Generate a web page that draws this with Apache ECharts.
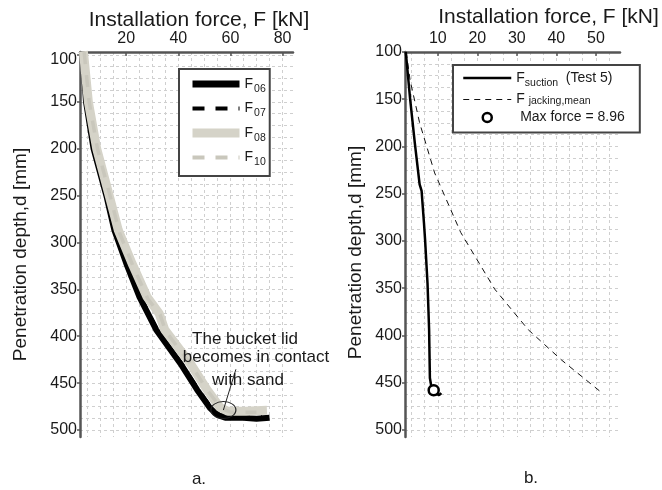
<!DOCTYPE html>
<html>
<head>
<meta charset="utf-8">
<script src="https://cdn.jsdelivr.net/npm/echarts@6/dist/echarts.min.js"></script>
<style>
html, body { margin: 0; padding: 0; background: #fff; }
#chart { width: 662px; height: 490px; }
</style>
</head>
<body>
<div id="chart"></div>
<script>
var FONT = "'Liberation Sans', Arial, sans-serif";

// (a) installation force [kN] vs penetration depth [mm], four tests
var f06Force = [3.4, 4.6, 7.5, 12.4, 15.5, 20.0, 25.1, 31.5, 40.8, 47.2, 52.3, 55.0, 58.0, 65.0, 70.0, 75.0];
var f06Depth = [97, 150, 200, 250, 287, 322, 358, 393, 429, 457, 477, 484, 487, 487, 488, 487];
var f07Force = [3.8, 5.0, 8.0, 12.8, 16.2, 20.8, 25.8, 32.2, 41.4, 47.8, 52.8, 56.0, 62.0, 72.0];
var f07Depth = [97, 150, 200, 250, 290, 325, 360, 395, 430, 458, 477, 484, 486, 485];
var f08Force = [3.6, 5.5, 8.7, 13.5, 17.0, 22.2, 28.0, 32.7, 34.8, 44.6, 51.0, 56.0, 59.0, 66.0, 74.0];
var f08Depth = [96, 150, 200, 250, 287, 322, 358, 376, 393, 429, 457, 476, 480, 480, 479];
var f10Force = [3.9, 5.8, 9.0, 13.8, 17.5, 22.6, 28.3, 33.0, 35.2, 44.8, 51.2, 56.5, 60.0, 70.0];
var f10Depth = [97, 150, 200, 250, 290, 325, 360, 377, 395, 430, 458, 477, 481, 481];

// (b) suction installation vs mean jacking force
var suctionForce = [1.9, 3.0, 4.2, 5.4, 5.9, 6.5, 6.8, 7.4, 7.8, 8.0, 8.4, 8.96, 9.6, 10.4, 10.9];
var suctionDepth = [100, 150, 197, 240, 247, 281, 300, 345, 394, 445, 455, 458, 462, 463, 461];
var jackingForce = [2.0, 3.0, 5.4, 9.2, 15.8, 24.4, 32.9, 41.3, 51.3];
var jackingDepth = [100, 130, 175, 228, 291, 351, 394, 426, 460];
var maxForce = 8.96;
var maxForceDepth = 458;

// where the lid touches the sand (annotation anchor + leader end)
var lidContact = [57.3, 478.7];
var lidLeaderEnd = [62.1, 435.3];

// tick labels
var leftForceTicks = [20, 40, 60, 80];
var rightForceTicks = [10, 20, 30, 40, 50];
var depthTicks = [100, 150, 200, 250, 300, 350, 400, 450, 500];

function pairs(xs, ys) {
    return xs.map(function (x, i) { return [x, ys[i]]; });
}
function steps(from, to, step) {
    var out = [];
    for (var v = from; v <= to + 1e-6; v += step) out.push(+v.toFixed(4));
    return out;
}

var axisColor = '#555';
var textColor = '#1a1a1a';
var noSymbol = { opacity: 0 };

function forceAxis(grid, min, max, ticks, nameGap, shift) {
    return {
        type: 'value', gridIndex: grid, position: 'top', min: min, max: max,
        name: 'Installation force, F [kN]', nameLocation: 'middle', nameGap: nameGap, nameMoveOverlap: false,
        nameTextStyle: { fontFamily: FONT, fontSize: 21, color: textColor, padding: [0, 0, 0, shift] },
        axisLine: { show: true, onZero: false, lineStyle: { color: axisColor, width: 2.5 } },
        axisTick: { show: true, inside: true, length: 4, customValues: ticks, lineStyle: { color: axisColor, width: 1.5 } },
        axisLabel: { customValues: ticks, margin: 5, fontFamily: FONT, fontSize: 16, color: textColor },
        splitLine: { show: false }
    };
}
function depthAxis(grid, min, max, nameGap, shift, firstPad) {
    return {
        type: 'value', gridIndex: grid, position: 'left', inverse: true, min: min, max: max,
        name: 'Penetration depth,d [mm]', nameLocation: 'middle', nameGap: nameGap, nameMoveOverlap: false,
        nameTextStyle: { fontFamily: FONT, fontSize: 19, color: textColor, padding: [0, shift, 0, 0] },
        axisLine: { show: true, onZero: false, lineStyle: { color: axisColor, width: 2.5 } },
        axisTick: { show: true, length: 3, customValues: depthTicks, lineStyle: { color: axisColor, width: 1.5 } },
        axisLabel: {
            customValues: depthTicks, margin: 3, fontFamily: FONT, fontSize: 16, color: textColor,
            formatter: function (v) { return v === 100 ? '{first|100}' : String(v); },
            rich: { first: { fontFamily: FONT, fontSize: 16, color: textColor, padding: [firstPad, 0, 0, 0] } }
        },
        splitLine: { show: false }
    };
}
function gridLineAxis(grid, min, max, values, inverse) {
    return {
        type: 'value', gridIndex: grid, min: min, max: max, inverse: inverse,
        axisLine: { show: false }, axisLabel: { show: false },
        axisTick: { show: false, customValues: values },
        splitLine: { show: true, lineStyle: { color: '#cfcfcf', width: 1, type: [3, 3] } }
    };
}
function label(text, x, y) {
    return {
        type: 'text', x: x, y: y, z: 100,
        style: { text: text, font: '17px ' + FONT, fill: textColor, align: 'center', verticalAlign: 'middle' }
    };
}

var chart = echarts.init(document.getElementById('chart'));

var option = {
    animation: false,
    backgroundColor: '#fff',
    grid: [
        { left: 80, top: 52, width: 213, height: 385, outerBoundsMode: 'none' },
        { left: 405, top: 52, width: 215, height: 385, outerBoundsMode: 'none' }
    ],
    xAxis: [
        forceAxis(0, 2.3, 84, leftForceTicks, 21, 25),
        gridLineAxis(0, 2.3, 84, steps(5, 80, 5), false),
        forceAxis(1, 1.7, 56.1, rightForceTicks, 24, 72),
        gridLineAxis(1, 1.7, 56.1, steps(10 / 3, 55, 10 / 3), false)
    ],
    yAxis: [
        depthAxis(0, 96.8, 507.5, 50, 20, 10),
        gridLineAxis(0, 96.8, 507.5, steps(100, 500, 12.5), true),
        depthAxis(1, 100, 507.5, 40, 16, 0),
        gridLineAxis(1, 100, 507.5, steps(100, 500, 12.5), true)
    ],
    legend: [
        {
            orient: 'vertical', left: 179, top: 69, selectedMode: false,
            padding: [8, 4, 8, 9], itemGap: 7, itemWidth: 47, itemHeight: 10,
            borderColor: '#444', borderWidth: 2, backgroundColor: '#fff',
            data: [
                { name: 'F06', lineStyle: { width: 7 }, itemStyle: noSymbol },
                { name: 'F07', lineStyle: { width: 4 }, itemStyle: noSymbol },
                { name: 'F08', lineStyle: { width: 9 }, itemStyle: noSymbol },
                { name: 'F10', lineStyle: { width: 4 }, itemStyle: noSymbol }
            ],
            formatter: function (n) { return 'F{s|' + n.slice(1) + '}'; },
            textStyle: {
                fontFamily: FONT, fontSize: 14, color: textColor,
                rich: { s: { fontFamily: FONT, fontSize: 10.5, color: textColor, padding: [10, 0, 0, 1] } }
            }
        },
        {
            orient: 'vertical', left: 453, top: 65, selectedMode: false,
            padding: [6, 15, 8, 9], itemGap: 4, itemWidth: 48, itemHeight: 9,
            borderColor: '#444', borderWidth: 2, backgroundColor: '#fff',
            data: [
                { name: 'suction', lineStyle: { width: 2.5 }, itemStyle: noSymbol },
                { name: 'jacking', lineStyle: { width: 1 }, itemStyle: noSymbol },
                { name: 'max', itemStyle: { color: '#fff', borderColor: '#000', borderWidth: 2.5, opacity: 1 } }
            ],
            formatter: function (n) {
                if (n === 'suction') return 'F{s|suction}  (Test 5)';
                if (n === 'jacking') return 'F {s2|jacking,mean}';
                return ' Max force = ' + maxForce;
            },
            textStyle: {
                fontFamily: FONT, fontSize: 14, color: textColor,
                rich: {
                    s: { fontFamily: FONT, fontSize: 10.5, color: textColor, padding: [10, 0, 0, 0] },
                    s2: { fontFamily: FONT, fontSize: 10.5, color: textColor, padding: [3, 0, 0, 0] }
                }
            }
        }
    ],
    series: [
        {
            name: 'F06', type: 'line', xAxisIndex: 0, yAxisIndex: 0, symbol: 'none',
            data: pairs(f06Force, f06Depth), lineStyle: { color: '#000', width: 6 }, itemStyle: { color: '#000' }
        },
        {
            name: 'F07', type: 'line', xAxisIndex: 0, yAxisIndex: 0, symbol: 'none',
            data: pairs(f07Force, f07Depth), lineStyle: { color: '#000', width: 4, type: [12, 11] }, itemStyle: { color: '#000' }
        },
        {
            name: 'F08', type: 'line', xAxisIndex: 0, yAxisIndex: 0, symbol: 'none',
            data: pairs(f08Force, f08Depth), lineStyle: { color: '#d5d3c8', width: 9 }, itemStyle: { color: '#d5d3c8' }
        },
        {
            name: 'F10', type: 'line', xAxisIndex: 0, yAxisIndex: 0, symbol: 'none',
            data: pairs(f10Force, f10Depth), lineStyle: { color: '#c9c7bc', width: 3.5, type: [12, 11] }, itemStyle: { color: '#d5d3c8' }
        },
        {
            name: 'lid', type: 'scatter', xAxisIndex: 0, yAxisIndex: 0, silent: true, z: 5,
            data: [lidContact], symbol: 'circle', symbolSize: [25, 17],
            itemStyle: { color: 'transparent', borderColor: '#222', borderWidth: 1, opacity: 1 },
            markLine: {
                silent: true, symbol: 'none', label: { show: false },
                lineStyle: { color: '#222', width: 1, type: 'solid' },
                data: [[{ coord: lidContact }, { coord: lidLeaderEnd }]]
            }
        },
        {
            name: 'jacking', type: 'line', xAxisIndex: 2, yAxisIndex: 2, symbol: 'none',
            data: pairs(jackingForce, jackingDepth), lineStyle: { color: '#111', width: 1, type: [6, 5] }, itemStyle: { color: '#111' }
        },
        {
            name: 'suction', type: 'line', xAxisIndex: 2, yAxisIndex: 2, symbol: 'none',
            data: pairs(suctionForce, suctionDepth), lineStyle: { color: '#000', width: 2.5 }, itemStyle: { color: '#000' }
        },
        {
            name: 'max', type: 'scatter', xAxisIndex: 2, yAxisIndex: 2, z: 5,
            data: [[maxForce, maxForceDepth]], symbol: 'circle', symbolSize: 10,
            itemStyle: { color: '#fff', borderColor: '#000', borderWidth: 2.5, opacity: 1 }
        }
    ],
    graphic: [
        label('The bucket lid', 245, 339),
        label('becomes in contact', 256, 357),
        label('with sand', 248, 380),
        label('a.', 199, 479),
        label('b.', 531, 478)
    ]
};

chart.setOption(option);
</script>
</body>
</html>
